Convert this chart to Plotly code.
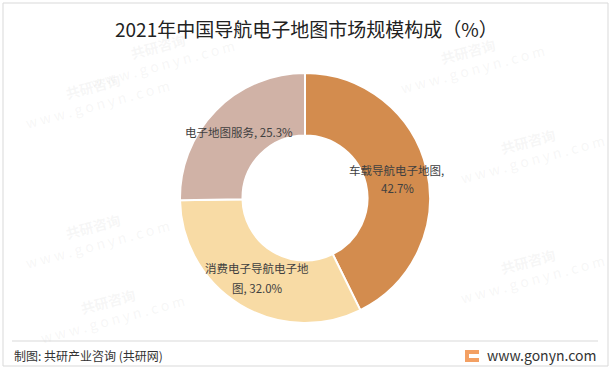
import plotly.graph_objects as go

categories = ["车载导航电子地图", "消费电子导航电子地图", "电子地图服务"]
values = [42.7, 32.0, 25.3]
colors = ["#D38C4E", "#F8DBA5", "#D0B2A6"]
label_lines = [["车载导航电子地图,", "42.7%"], ["消费电子导航电子地", "图, 32.0%"], ["电子地图服务, 25.3%"]]
label_pos = [[(396, 170), (397, 188)], [(257, 268), (257, 288)], [(239, 132)]]

W, H = 612, 370
cx, cy, r = 305, 198, 125
FONT = "Noto Sans CJK SC"

fig = go.Figure(go.Pie(
    labels=categories, values=values, sort=False, direction="clockwise", rotation=0,
    hole=0.5, marker=dict(colors=colors, line=dict(color="white", width=2)),
    textinfo="none", hoverinfo="label+percent", showlegend=False,
    domain=dict(x=[(cx - r) / W, (cx + r) / W], y=[(H - cy - r) / H, (H - cy + r) / H]),
))


def ann(x, y, text, size, color, xanchor="center", **kw):
    return dict(x=x / W, y=1 - y / H, xref="paper", yref="paper", showarrow=False,
                xanchor=xanchor, yanchor="middle", text=text,
                font=dict(family=FONT, size=size, color=color), **kw)


anns = []
# faint watermarks (kept away from labels and edges)
wm = [(95, 95), (470, 60), (530, 150), (95, 235), (530, 270), (160, 55), (110, 310)]
for x, y in wm:
    anns.append(ann(x, y, "<b>共研咨询</b><br>w w w . g o n y n . c o m", 14,
                    "rgba(190,190,190,0.13)", textangle=-15))

for lines, poss in zip(label_lines, label_pos):
    for line, (x, y) in zip(lines, poss):
        anns.append(ann(x, y, line, 11.5, "#404040"))

anns.append(ann(306, 28, "2021年中国导航电子地图市场规模构成（%）", 19, "#222222"))
anns.append(ann(12, 355, "制图: 共研产业咨询 (共研网)", 12, "#333333", xanchor="left"))
anns.append(ann(598, 355, "www.gonyn.com", 14, "#333333", xanchor="right"))

shapes = [
    dict(type="rect", xref="paper", yref="paper", x0=3 / W, x1=608 / W, y0=1 - 366 / H, y1=1 - 3 / H,
         line=dict(color="#D9D9D9", width=1)),
    dict(type="line", xref="paper", yref="paper", x0=12 / W, x1=598 / W, y0=1 - 341 / H, y1=1 - 341 / H,
         line=dict(color="#D9D9D9", width=1)),
    # logo
    dict(type="rect", xref="paper", yref="paper", x0=465 / W, x1=479 / W, y0=1 - 362 / H, y1=1 - 350 / H,
         line=dict(width=0), fillcolor="#F3A063"),
    dict(type="rect", xref="paper", yref="paper", x0=469 / W, x1=479 / W, y0=1 - 358 / H, y1=1 - 354 / H,
         line=dict(width=0), fillcolor="#FFFFFF"),
]

fig.update_layout(width=W, height=H, margin=dict(l=0, r=0, t=0, b=0),
                  paper_bgcolor="white", plot_bgcolor="white",
                  annotations=anns, shapes=shapes)
fig.write_html("out.html", config={"displayModeBar": False},
               post_script="document.body.style.margin='0';")
